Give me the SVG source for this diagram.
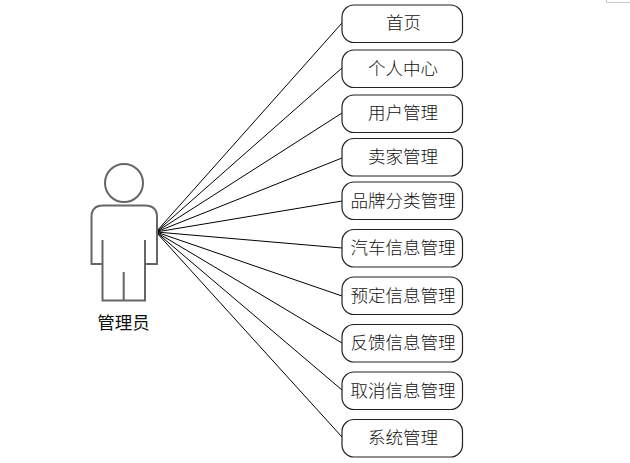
<svg xmlns="http://www.w3.org/2000/svg" width="630" height="463" viewBox="0 0 630 463">
<style>
.box{fill:#fff;stroke:#222;stroke-width:1.2}
.t{font-family:"Noto Sans CJK SC","Noto Sans",sans-serif;font-size:17.500px;fill:#111;text-anchor:middle;font-weight:300}
.c line{stroke:#000;stroke-width:1}
.a{fill:none;stroke:#666;stroke-width:2}
</style>
<rect width="630" height="463" fill="#fff"/>
<path d="M606.500 0V2.500H630" fill="none" stroke="#c8c8c8" stroke-width="1"/>
<g id="connectors" class="c">
<line x1="156" y1="232" x2="342" y2="23"/>
<line x1="156" y1="232" x2="342" y2="68"/>
<line x1="156" y1="232" x2="342" y2="113"/>
<line x1="156" y1="232" x2="342" y2="158"/>
<line x1="156" y1="232" x2="342" y2="201"/>
<line x1="156" y1="232" x2="342" y2="248"/>
<line x1="156" y1="232" x2="342" y2="296"/>
<line x1="156" y1="232" x2="342" y2="343"/>
<line x1="156" y1="232" x2="342" y2="390"/>
<line x1="156" y1="232" x2="342" y2="437"/>
</g>
<g id="actor">
<circle class="a" cx="124" cy="183" r="19"/>
<path class="a" d="M102.500 240V264H91.500V217Q91.500 205.500 103 205.500H145Q157 205.500 157 217V264H145V240M145 264V300.500H102.500V264M123.700 272V300.500"/>
<text x="123.500" y="329" style="font-family:'Noto Sans CJK SC',sans-serif;font-size:17.500px;fill:#111;text-anchor:middle">管理员</text>
</g>
<g id="n1"><rect class="box" x="342" y="5" width="120.500" height="37.500" rx="12"/><text class="t" x="403.500" y="29">首页</text></g>
<g id="n2"><rect class="box" x="342" y="50" width="120.500" height="37.500" rx="12"/><text class="t" x="403" y="75">个人中心</text></g>
<g id="n3"><rect class="box" x="342" y="95" width="120.500" height="37.500" rx="12"/><text class="t" x="403" y="119">用户管理</text></g>
<g id="n4"><rect class="box" x="342" y="138.500" width="120.500" height="37.500" rx="12"/><text class="t" x="403" y="163">卖家管理</text></g>
<g id="n5"><rect class="box" x="342" y="182" width="120.500" height="37.500" rx="12"/><text class="t" x="403" y="207">品牌分类管理</text></g>
<g id="n6"><rect class="box" x="342" y="229.500" width="120.500" height="37.500" rx="12"/><text class="t" x="403" y="254">汽车信息管理</text></g>
<g id="n7"><rect class="box" x="342" y="277" width="120.500" height="37.500" rx="12"/><text class="t" x="403" y="302">预定信息管理</text></g>
<g id="n8"><rect class="box" x="342" y="324.500" width="120.500" height="37.500" rx="12"/><text class="t" x="403" y="349">反馈信息管理</text></g>
<g id="n9"><rect class="box" x="342" y="372" width="120.500" height="37.500" rx="12"/><text class="t" x="403" y="397">取消信息管理</text></g>
<g id="n10"><rect class="box" x="342" y="419.500" width="120.500" height="37.500" rx="12"/><text class="t" x="403" y="444">系统管理</text></g>
</svg>
